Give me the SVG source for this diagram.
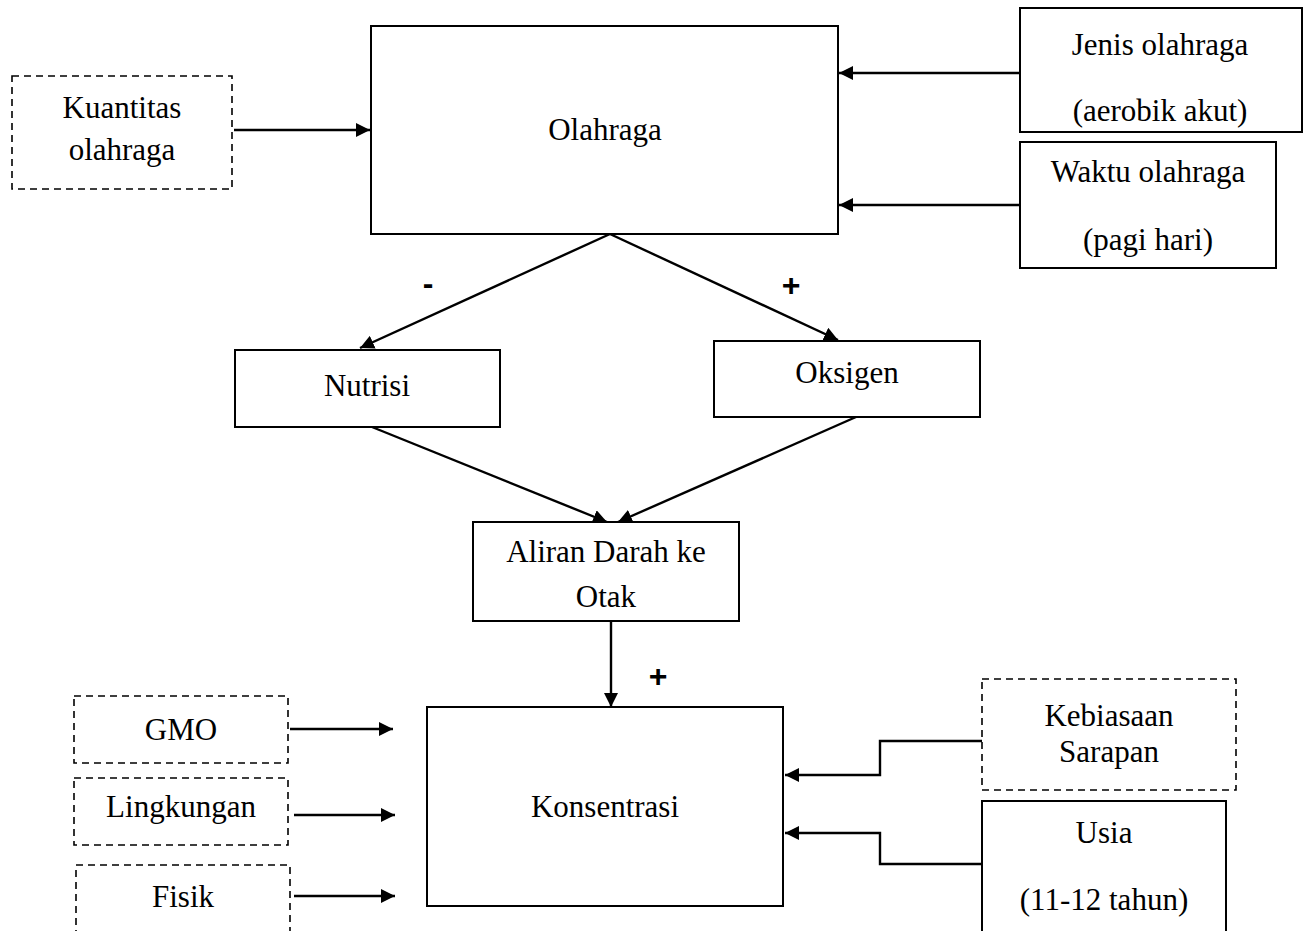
<svg xmlns="http://www.w3.org/2000/svg" width="1310" height="931" viewBox="0 0 1310 931">
<defs>
<marker id="ah" markerWidth="14" markerHeight="14" viewBox="0 0 14 14" refX="14" refY="7" orient="auto" markerUnits="userSpaceOnUse">
<path d="M0,0 L14,7 L0,14 Z" fill="#000"/>
</marker>
</defs>
<style>
.box{fill:#fff;stroke:#000;stroke-width:2}
.dash{fill:#fff;stroke:#000;stroke-width:1.6;stroke-dasharray:7,5}
.t{font-family:"Liberation Serif","Times New Roman",serif;font-size:31px;fill:#000;text-anchor:middle}
.s{font-family:"Liberation Sans",Arial,sans-serif;font-size:32px;font-weight:bold;fill:#000;text-anchor:middle}
.c{fill:none;stroke:#000;stroke-width:2.4}
.ca{fill:none;stroke:#000;stroke-width:2.4;marker-end:url(#ah)}
</style>
<rect width="1310" height="931" fill="#fff"/>
<g id="connectors">
<line class="ca" x1="234" y1="130" x2="370" y2="130"/>
<line class="ca" x1="1020" y1="73" x2="839" y2="73"/>
<line class="ca" x1="1020" y1="205" x2="839" y2="205"/>
<line class="ca" x1="610" y1="234" x2="360" y2="348"/>
<line class="ca" x1="610" y1="234" x2="838" y2="340"/>
<line class="ca" x1="372" y1="427" x2="607" y2="522"/>
<line class="ca" x1="856" y1="417" x2="618" y2="522"/>
<line class="ca" x1="611" y1="621" x2="611" y2="707"/>
<line class="ca" x1="290" y1="729" x2="393" y2="729"/>
<line class="ca" x1="294" y1="815" x2="395" y2="815"/>
<line class="ca" x1="294" y1="896" x2="395" y2="896"/>
<polyline class="ca" points="982,741 880,741 880,775 785,775"/>
<polyline class="ca" points="982,864 880,864 880,833 785,833"/>
</g>
<g id="labels">
<text class="s" x="428" y="294">-</text>
<text class="s" x="791" y="296">+</text>
<text class="s" x="658" y="687">+</text>
</g>
<g id="olahraga"><rect class="box" x="371" y="26" width="467" height="208"/><text class="t" x="605" y="140">Olahraga</text></g>
<g id="kuantitas"><rect class="dash" x="12" y="76" width="220" height="113"/><text class="t" x="122" y="118">Kuantitas</text><text class="t" x="122" y="160">olahraga</text></g>
<g id="jenis"><rect class="box" x="1020" y="8" width="282" height="124"/><text class="t" x="1160" y="55">Jenis olahraga</text><text class="t" x="1160" y="121">(aerobik akut)</text></g>
<g id="waktu"><rect class="box" x="1020" y="142" width="256" height="126"/><text class="t" x="1148" y="182">Waktu olahraga</text><text class="t" x="1148" y="250">(pagi hari)</text></g>
<g id="nutrisi"><rect class="box" x="235" y="350" width="265" height="77"/><text class="t" x="367" y="396">Nutrisi</text></g>
<g id="oksigen"><rect class="box" x="714" y="341" width="266" height="76"/><text class="t" x="847" y="383">Oksigen</text></g>
<g id="aliran"><rect class="box" x="473" y="522" width="266" height="99"/><text class="t" x="606" y="562">Aliran Darah ke</text><text class="t" x="606" y="607">Otak</text></g>
<g id="konsentrasi"><rect class="box" x="427" y="707" width="356" height="199"/><text class="t" x="605" y="817">Konsentrasi</text></g>
<g id="gmo"><rect class="dash" x="74" y="696" width="214" height="67"/><text class="t" x="181" y="740">GMO</text></g>
<g id="lingkungan"><rect class="dash" x="74" y="778" width="214" height="67"/><text class="t" x="181" y="817">Lingkungan</text></g>
<g id="fisik"><rect class="dash" x="76" y="865" width="214" height="80"/><text class="t" x="183" y="907">Fisik</text></g>
<g id="kebiasaan"><rect class="dash" x="982" y="679" width="254" height="111"/><text class="t" x="1109" y="726">Kebiasaan</text><text class="t" x="1109" y="762">Sarapan</text></g>
<g id="usia"><rect class="box" x="982" y="801" width="244" height="150"/><text class="t" x="1104" y="843">Usia</text><text class="t" x="1104" y="910">(11-12 tahun)</text></g>
</svg>
